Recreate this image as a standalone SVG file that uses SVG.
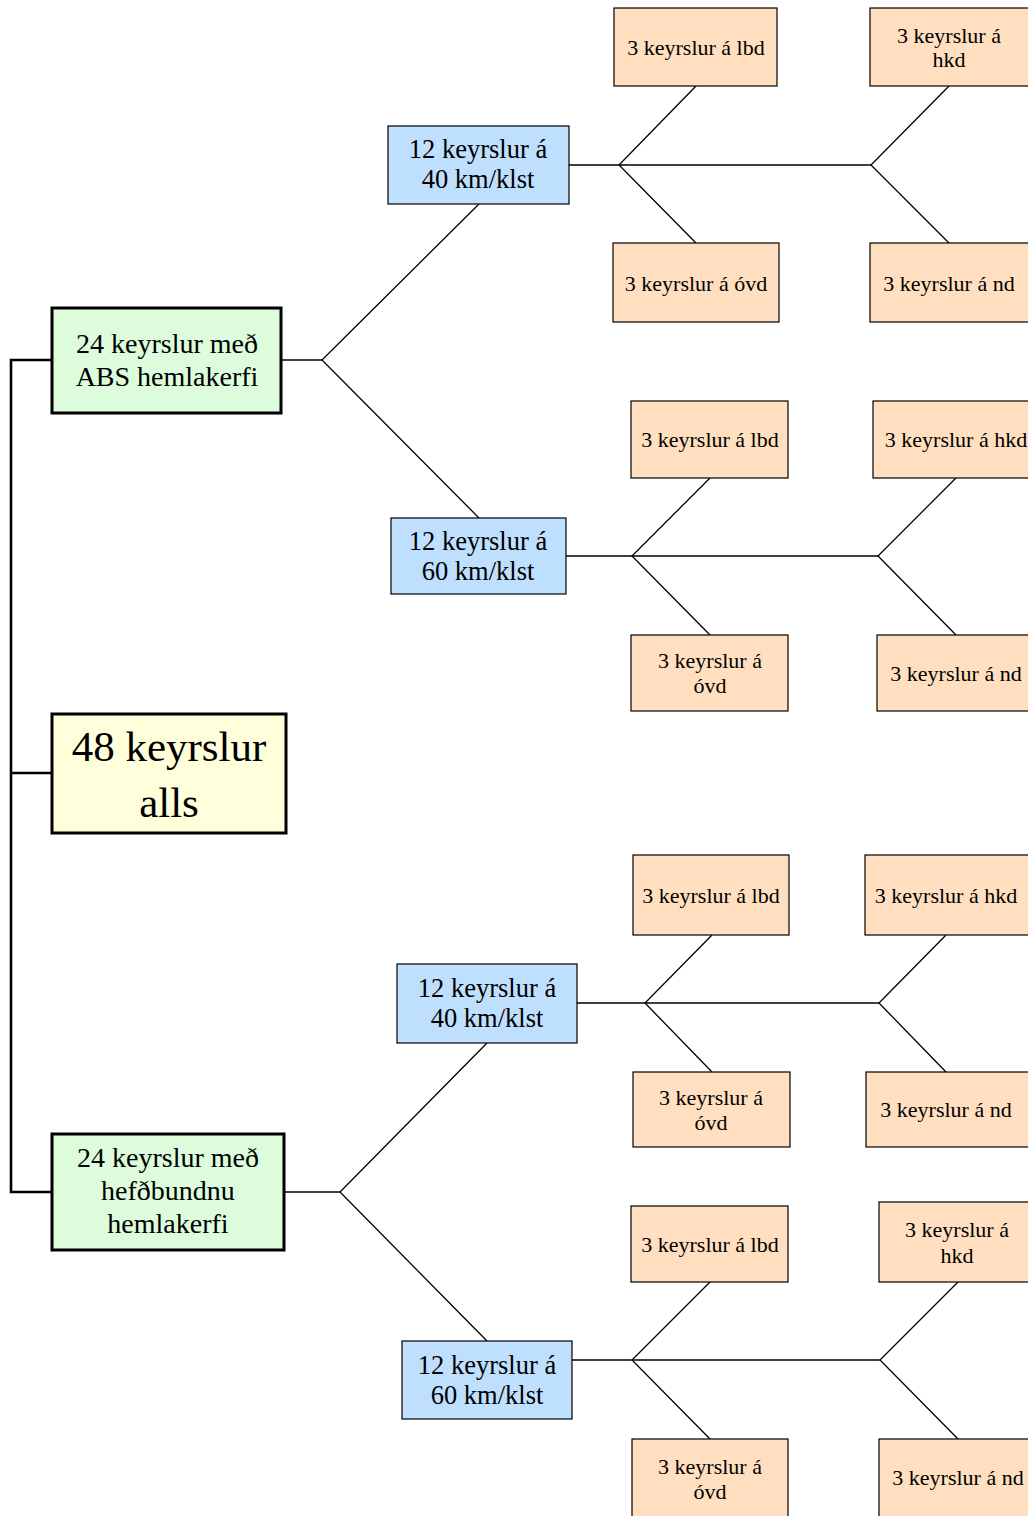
<svg xmlns="http://www.w3.org/2000/svg" width="1028" height="1516" viewBox="0 0 1028 1516" font-family="Liberation Serif, Times New Roman, serif">
<style>
text{font-family:'Liberation Serif','Times New Roman',serif;fill:#000;text-anchor:middle}
.g rect{fill:#dcfcdc;stroke:#000;stroke-width:3}
.y rect{fill:#ffffdc;stroke:#000;stroke-width:3}
.b rect{fill:#bfdfff;stroke:#000;stroke-width:1.2}
.o rect{fill:#ffdfbf;stroke:#000;stroke-width:1.2}
.g text{font-size:28px}
.y text{font-size:43px}
.b text{font-size:26.5px}
.o text{font-size:22px}
.c{fill:none;stroke:#000;stroke-width:1.3}
.k{fill:none;stroke:#000;stroke-width:2.6}
</style>
<rect width="1028" height="1516" fill="#fff"/>
<g id="connectors">
<polyline class="k" points="52,360 11,360 11,1192 52,1192"/>
<line class="k" x1="11" y1="773" x2="52" y2="773"/>
<polyline class="c" points="479,204 322,360 479,518"/>
<line class="c" x1="281" y1="360" x2="322" y2="360"/>
<polyline class="c" points="696,86 619,165 696,243"/>
<line class="c" x1="569" y1="165" x2="871" y2="165"/>
<polyline class="c" points="949,86 871,165 949,243"/>
<polyline class="c" points="710,478 632,556 710,635"/>
<line class="c" x1="566" y1="556" x2="878" y2="556"/>
<polyline class="c" points="956,478 878,556 956,635"/>
<polyline class="c" points="487,1043 340,1192 487,1341"/>
<line class="c" x1="284" y1="1192" x2="340" y2="1192"/>
<polyline class="c" points="712,935 645,1003 712,1072"/>
<line class="c" x1="577" y1="1003" x2="879" y2="1003"/>
<polyline class="c" points="946,935 879,1003 946,1072"/>
<polyline class="c" points="710,1282 632,1360 710,1439"/>
<line class="c" x1="572" y1="1360" x2="880" y2="1360"/>
<polyline class="c" points="958,1282 880,1360 958,1439"/>
</g>
<g id="total" class="y"><rect x="52" y="714" width="234" height="119"/><text x="169" y="761">48 keyrslur</text><text x="169" y="817">alls</text></g>
<g id="abs" class="g"><rect x="52" y="308" width="229" height="105"/><text x="167" y="353">24 keyrslur með</text><text x="167" y="386">ABS hemlakerfi</text></g>
<g id="hefd" class="g"><rect x="52" y="1134" width="232" height="116"/><text x="168" y="1167">24 keyrslur með</text><text x="168" y="1200">hefðbundnu</text><text x="168" y="1233">hemlakerfi</text></g>
<g id="abs40" class="b"><rect x="388" y="126" width="181" height="78"/><text x="478" y="158">12 keyrslur á</text><text x="478" y="188">40 km/klst</text></g>
<g id="abs60" class="b"><rect x="391" y="518" width="175" height="76"/><text x="478" y="550">12 keyrslur á</text><text x="478" y="580">60 km/klst</text></g>
<g id="hef40" class="b"><rect x="397" y="964" width="180" height="79"/><text x="487" y="997">12 keyrslur á</text><text x="487" y="1027">40 km/klst</text></g>
<g id="hef60" class="b"><rect x="402" y="1341" width="170" height="78"/><text x="487" y="1374">12 keyrslur á</text><text x="487" y="1404">60 km/klst</text></g>
<g id="a40lbd" class="o"><rect x="614" y="8" width="163" height="78"/><text x="696" y="55">3 keyrslur á lbd</text></g>
<g id="a40hkd" class="o"><rect x="870" y="8" width="160" height="78"/><text x="949" y="43">3 keyrslur á</text><text x="949" y="67">hkd</text></g>
<g id="a40ovd" class="o"><rect x="613" y="243" width="166" height="79"/><text x="696" y="291">3 keyrslur á óvd</text></g>
<g id="a40nd" class="o"><rect x="870" y="243" width="160" height="79"/><text x="949" y="291">3 keyrslur á nd</text></g>
<g id="a60lbd" class="o"><rect x="631" y="401" width="157" height="77"/><text x="710" y="447">3 keyrslur á lbd</text></g>
<g id="a60hkd" class="o"><rect x="873" y="401" width="160" height="77"/><text x="956" y="447">3 keyrslur á hkd</text></g>
<g id="a60ovd" class="o"><rect x="631" y="635" width="157" height="76"/><text x="710" y="668">3 keyrslur á</text><text x="710" y="693">óvd</text></g>
<g id="a60nd" class="o"><rect x="877" y="635" width="160" height="76"/><text x="956" y="681">3 keyrslur á nd</text></g>
<g id="h40lbd" class="o"><rect x="633" y="855" width="156" height="80"/><text x="711" y="903">3 keyrslur á lbd</text></g>
<g id="h40hkd" class="o"><rect x="865" y="855" width="170" height="80"/><text x="946" y="903">3 keyrslur á hkd</text></g>
<g id="h40ovd" class="o"><rect x="633" y="1072" width="157" height="75"/><text x="711" y="1105">3 keyrslur á</text><text x="711" y="1130">óvd</text></g>
<g id="h40nd" class="o"><rect x="866" y="1072" width="170" height="75"/><text x="946" y="1117">3 keyrslur á nd</text></g>
<g id="h60lbd" class="o"><rect x="631" y="1206" width="157" height="76"/><text x="710" y="1252">3 keyrslur á lbd</text></g>
<g id="h60hkd" class="o"><rect x="879" y="1202" width="160" height="80"/><text x="957" y="1237">3 keyrslur á</text><text x="957" y="1263">hkd</text></g>
<g id="h60ovd" class="o"><rect x="632" y="1439" width="156" height="90"/><text x="710" y="1474">3 keyrslur á</text><text x="710" y="1499">óvd</text></g>
<g id="h60nd" class="o"><rect x="879" y="1439" width="160" height="90"/><text x="958" y="1485">3 keyrslur á nd</text></g>
</svg>
